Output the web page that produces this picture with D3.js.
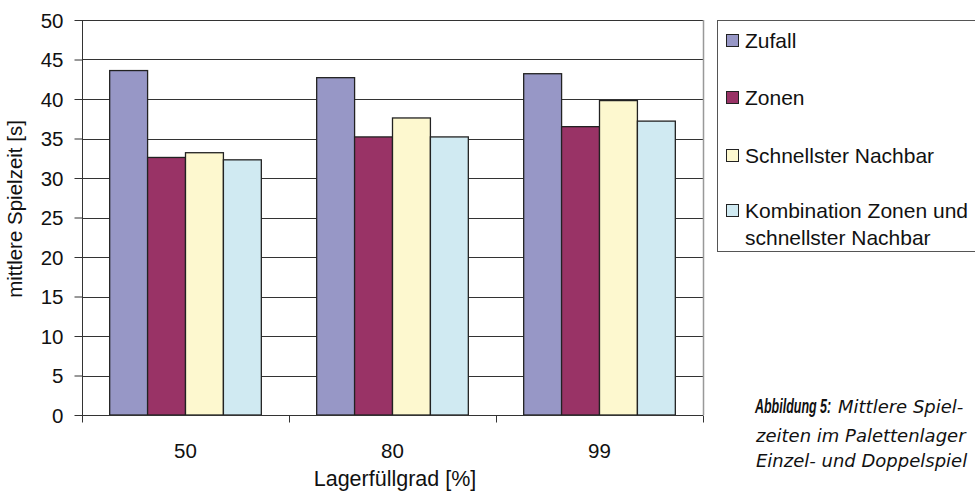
<!DOCTYPE html>
<html><head><meta charset="utf-8">
<script src="https://cdn.jsdelivr.net/npm/d3@7"></script>
<style>body{margin:0;background:#fff;overflow:hidden}svg{display:block}</style>
</head><body>
<svg id="c" width="975" height="495"></svg>
<script>
const categories = ["50", "80", "99"];
const seriesNames = ["Zufall", "Zonen", "Schnellster Nachbar", "Kombination Zonen und|schnellster Nachbar"];
const zufall = [43.6, 42.7, 43.2];
const zonen = [32.6, 35.2, 36.5];
const schnellster = [33.2, 37.6, 39.8];
const kombination = [32.3, 35.2, 37.2];
const yTicks = [0, 5, 10, 15, 20, 25, 30, 35, 40, 45, 50];
const captionLines = ["Mittlere Spiel-", "zeiten im Palettenlager", "Einzel- und Doppelspiel"];
const colors = ["#9797c6", "#993366", "#fdf8cf", "#d0eaf2"];
const series = [zufall, zonen, schnellster, kombination];

const svg = d3.select("#c");
const m = {l: 82, r: 703, t: 20, b: 415};
const x = d3.scaleBand().domain(categories).range([m.l, m.r]).paddingInner(0).paddingOuter(0);
const xi = d3.scaleBand().domain(d3.range(4)).range([0, x.bandwidth()]).paddingOuter(0.73).paddingInner(0);
const y = d3.scaleLinear().domain([0, 50]).range([m.b, m.t]);
const font = "Liberation Sans, Arial, sans-serif";

// gridlines
svg.append("g").selectAll("line").data(yTicks.filter(d => d > 0)).join("line")
  .attr("x1", m.l).attr("x2", m.r).attr("y1", d => Math.round(y(d)) + 0.5).attr("y2", d => Math.round(y(d)) + 0.5)
  .attr("stroke", "#333").attr("stroke-width", 1);
// right border
svg.append("line").attr("x1", m.r + 0.5).attr("x2", m.r + 0.5).attr("y1", m.t).attr("y2", m.b)
  .attr("stroke", "#999").attr("stroke-width", 1.5);

// bars
const g = svg.append("g");
categories.forEach((c, ci) => {
  series.forEach((s, si) => {
    g.append("rect")
      .attr("x", x(c) + xi(si)).attr("width", xi.bandwidth())
      .attr("y", y(s[ci])).attr("height", y(0) - y(s[ci]))
      .attr("fill", colors[si]).attr("stroke", "#222").attr("stroke-width", 1.3);
  });
});

// y axis
const ya = svg.append("g").attr("transform", `translate(${m.l + 0.5},0)`)
  .call(d3.axisLeft(y).tickValues(yTicks).tickSize(8).tickPadding(11).tickSizeOuter(0));
ya.selectAll(".tick line").attr("stroke", "#333");
ya.selectAll("text").attr("font-family", font).attr("font-size", 20.5).attr("fill", "#111").attr("dy", "0.36em");
ya.select(".domain").attr("stroke", "#333").attr("d", `M0,${m.t}V${m.b + 7}`);

// x axis
const xa = svg.append("g").attr("transform", `translate(0,${m.b + 0.5})`);
xa.append("line").attr("x1", m.l).attr("x2", m.r).attr("stroke", "#333");
xa.selectAll(".tk").data(categories.concat(["end"])).join("line")
  .attr("x1", (d, i) => i < 3 ? Math.round(x(d)) + 0.5 : m.r + 0.5)
  .attr("x2", (d, i) => i < 3 ? Math.round(x(d)) + 0.5 : m.r + 0.5)
  .attr("y1", 0).attr("y2", 7).attr("stroke", "#333");
xa.selectAll("text").data(categories).join("text")
  .attr("x", d => x(d) + x.bandwidth() / 2).attr("y", 42)
  .attr("text-anchor", "middle").attr("font-family", font).attr("font-size", 20.5).attr("fill", "#111")
  .text(d => d);

// axis titles
svg.append("text").attr("x", 395).attr("y", 486).attr("text-anchor", "middle")
  .attr("font-family", font).attr("font-size", 21.5).attr("fill", "#111").text("Lagerfüllgrad [%]");
svg.append("text").attr("transform", "translate(22,209) rotate(-90)").attr("text-anchor", "middle")
  .attr("font-family", font).attr("font-size", 20.5).attr("fill", "#111").text("mittlere Spielzeit [s]");

// legend
svg.append("rect").attr("x", 717.5).attr("y", 20.5).attr("width", 270).attr("height", 231)
  .attr("fill", "#fff").attr("stroke", "#555").attr("stroke-width", 1);
const ly = [48, 105, 163, 218];
seriesNames.forEach((n, i) => {
  svg.append("rect").attr("x", 726.5).attr("y", ly[i] - 13.5).attr("width", 12).attr("height", 12)
    .attr("fill", colors[i]).attr("stroke", "#222").attr("stroke-width", 1);
  const lines = n.split("|");
  lines.forEach((t, j) => {
    svg.append("text").attr("x", 745).attr("y", ly[i] + j * 27)
      .attr("font-family", font).attr("font-size", 21).attr("fill", "#111").text(t);
  });
});

// caption
const cap = svg.append("g").attr("font-family", "DejaVu Sans, sans-serif").attr("font-style", "italic")
  .attr("font-size", 18).attr("fill", "#111");
cap.append("text").attr("transform", "translate(755,413) scale(0.64,1)")
  .attr("font-family", font).attr("font-weight", "bold").attr("font-size", 19.5)
  .text("Abbildung 5:");
cap.append("text").attr("x", 838).attr("y", 413).text(captionLines[0]);
cap.append("text").attr("x", 756).attr("y", 442).text(captionLines[1]);
cap.append("text").attr("x", 756).attr("y", 467).text(captionLines[2]);
</script>
</body></html>
